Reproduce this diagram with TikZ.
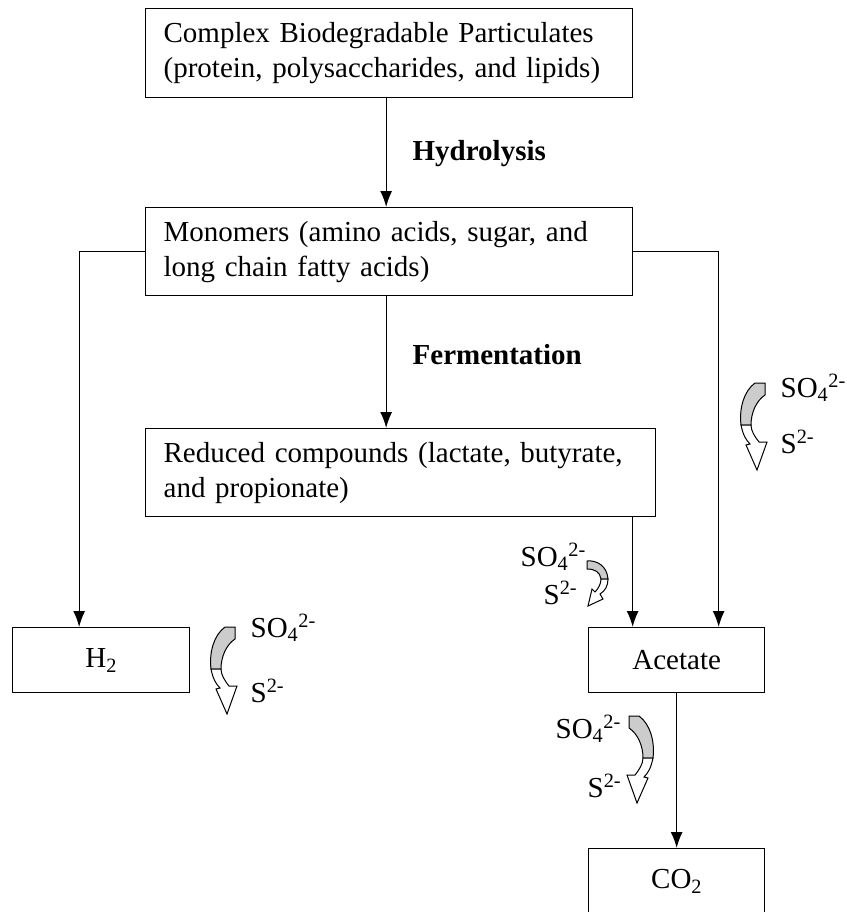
\documentclass[tikz,border=0pt]{standalone}
\usepackage{fontspec}
\setmainfont{Liberation Serif}
\usetikzlibrary{positioning}
\usetikzlibrary{arrows.meta}

\begin{document}
\begin{tikzpicture}[
  x=1pt, y=-1pt,
  line width=1.3pt,
  font=\fontsize{29}{35}\selectfont
]
\tikzset{
    box/.style = {draw=black, rectangle, align=left, anchor=north west, inner xsep=18pt, inner ysep=0pt},
    cbox/.style = {box, align=center},
    flow/.style = {-{Latex[length=16pt,width=12pt]}},
    proclabel/.style = {anchor=base west, inner sep=0pt, font=\fontsize{29}{35}\selectfont\bfseries},
    ion/.style = {anchor=base west, inner sep=0pt},
    sulfarrow/.pic = {
      \filldraw[fill=gray!40, line width=1pt] (0,0) -- (-10,0) .. controls (-21,8) and (-26,25) .. (-24,42)
        -- (-14,42) .. controls (-14,30) and (-9,18) .. (0,12) -- cycle;
      \filldraw[fill=white, line width=1pt] (-24,42) .. controls (-22,52) and (-19,57) .. (-15,61)
        -- (-19,62) -- (-8,87) -- (2,59) -- (-6,59) .. controls (-10,54) and (-14,48) .. (-14,42) -- cycle;
    },
    sulfcurl/.pic = {
      \filldraw[fill=gray!40, line width=1pt] (0,0) .. controls (10,-1) and (20,5) .. (21,18)
        -- (14,18) .. controls (13,11) and (8,8) .. (0,8) -- cycle;
      \filldraw[fill=white, line width=1pt] (21,18) .. controls (21,25) and (18,30) .. (13,33)
        -- (16,38) -- (1,45) -- (5,28) -- (8,31) .. controls (11,28) and (14,23) .. (14,18) -- cycle;
    }
}
\useasboundingbox (0,0) rectangle (846,912);

\node[box, text width=451pt, minimum height=89pt] (part) at (145,8)
  {Complex Biodegradable Particulates\\(protein, polysaccharides, and lipids)};
\node[box, text width=451pt, minimum height=88pt] (mono) at (145,207)
  {Monomers (amino acids, sugar, and\\long chain fatty acids)};
\node[box, text width=474pt, minimum height=88pt] (red) at (145,428)
  {Reduced compounds (lactate, butyrate,\\and propionate)};
\node[cbox, text width=141pt, minimum height=65pt] (h2) at (12,627) {H\textsubscript{2}};
\node[cbox, text width=140pt, minimum height=65pt] (acet) at (588,627) {Acetate};
\node[cbox, text width=140pt, minimum height=66pt] (co2) at (588,848) {CO\textsubscript{2}};

\draw[flow] ([xshift=-3pt]part.south) -- ([xshift=-3pt]mono.north);
\draw[flow] ([xshift=-3pt]mono.south) -- ([xshift=-3pt]mono.south |- red.north);
\draw[flow] (mono.west) -| ([xshift=-22pt]h2.north);
\draw[flow] (mono.east) -| ([xshift=42pt]acet.north);
\draw[flow] ([xshift=-44pt]acet.north |- red.south) -- ([xshift=-44pt]acet.north);
\draw[flow] (acet) -- (co2);

\node[proclabel] (hydro) at (412,161) {Hydrolysis};
\node[proclabel] (ferm) at (412,364) {Fermentation};

\pic at (765,383) {sulfarrow};
\node[ion] (so4a) at (780,397) {SO\textsubscript{4}\textsuperscript{2-}};
\node[ion] (sa) at (780,453) {S\textsuperscript{2-}};

\pic at (587,561) {sulfcurl};
\node[ion] (so4b) at (520,566) {SO\textsubscript{4}\textsuperscript{2-}};
\node[ion] (sb) at (543,604) {S\textsuperscript{2-}};

\pic at (235,627) {sulfarrow};
\node[ion] (so4c) at (250,637) {SO\textsubscript{4}\textsuperscript{2-}};
\node[ion] (sc) at (250,702) {S\textsuperscript{2-}};

\pic[xscale=-1] at (629,716) {sulfarrow};
\node[ion] (so4d) at (555,738) {SO\textsubscript{4}\textsuperscript{2-}};
\node[ion] (sd) at (587,797) {S\textsuperscript{2-}};
\end{tikzpicture}
\end{document}
